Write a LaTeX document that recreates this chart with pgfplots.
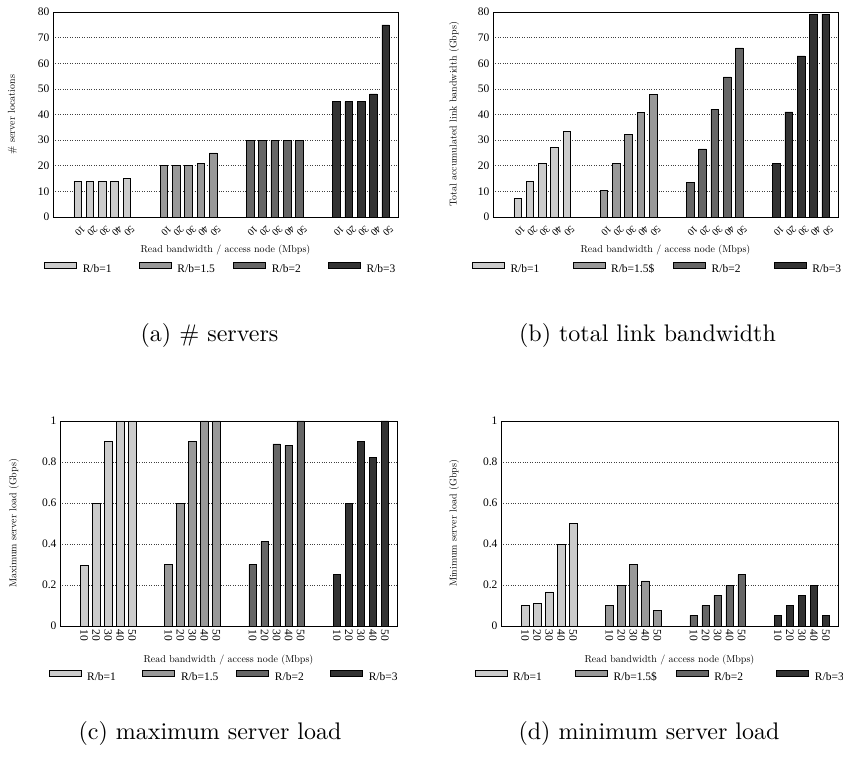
\documentclass[border=0pt]{standalone}
\usepackage{fontspec}
\usepackage{graphicx}
\usepackage{pgfplots}
\pgfplotsset{compat=1.18}
\newfontfamily\tnr{Liberation Serif}
\newcommand\cf{\tnr\fontsize{11.5}{13.8}\selectfont}
\newcommand\cfs{\tnr\fontsize{10}{12}\selectfont}
\definecolor{c1}{gray}{0.80}
\definecolor{c2}{gray}{0.60}
\definecolor{c3}{gray}{0.40}
\definecolor{c4}{gray}{0.20}
\pgfplotsset{
  mybar/.style={ybar, bar width=0.62, bar shift=0pt, draw=black, line width=0.6pt, fill=#1,
    legend image code/.code={\draw[fill=#1, draw=black, line width=0.6pt] (0pt,0.8pt) rectangle (32pt,6.8pt);}},
  ylab/.style={every axis y label/.style={at={(axis description cs:0,0.5)}, xshift=#1, rotate=90, anchor=center}},
  xlab/.style={every axis x label/.style={at={(axis description cs:0.5,0)}, yshift=#1, anchor=center}},
  legpos/.style 2 args={legend style={at={(rel axis cs:#1,#2)}}},
  base/.style={scale only axis, height=205pt, xmin=0, xmax=28, ymin=0,
    xtick={2,3,4,5,6,9,10,11,12,13,16,17,18,19,20,23,24,25,26,27},
    xticklabels={10,20,30,40,50,10,20,30,40,50,10,20,30,40,50,10,20,30,40,50},
    ymajorgrids, major grid style={dotted, black!75, line width=0.5pt},
    axis line style={line width=0.8pt}, tick style={draw=none},
    tick label style={font=\cf}, label style={font=\cf},
    /pgf/number format/assume math mode=true,
    xlabel={Read bandwidth / access node (Mbps)},
    legend columns=4,
    legend style={draw=none, fill=none, inner sep=0pt, font=\cf, anchor=west, nodes={inner sep=0pt},
      /tikz/every odd column/.append style={column sep=6pt}},
  },
  top/.style={base, width=345pt, ymax=80, ytick={0,10,20,30,40,50,60,70,80}, xlab=-33pt,
    xticklabel style={font=\cfs, xshift=2.5pt, yshift=-14pt, rotate=-135, anchor=center}},
  bot/.style={base, width=337pt, ymax=1, ytick={0,0.2,0.4,0.6,0.8,1}, xlab=-34pt,
    xticklabel style={rotate=-90, anchor=west}},
}
\begin{document}
\begin{tikzpicture}
\path[use as bounding box] (0pt,0pt) rectangle (843pt,758pt);
% (a)
\begin{axis}[top, at={(53pt,541pt)}, anchor=south west, ylabel={\# server locations}, ylab=-40.5pt, legpos={-0.0261}{-0.249}]
\addplot[mybar=c1] coordinates {(2,14) (3,14) (4,14) (5,14) (6,15)};
\addlegendentry{\makebox[56pt][l]{R/b=1}}
\addplot[mybar=c2] coordinates {(9,20) (10,20) (11,20) (12,21) (13,25)};
\addlegendentry{\makebox[56pt][l]{R/b=1.5}}
\addplot[mybar=c3] coordinates {(16,30) (17,30) (18,30) (19,30) (20,30)};
\addlegendentry{\makebox[56pt][l]{R/b=2}}
\addplot[mybar=c4] coordinates {(23,45) (24,45) (25,45) (26,48) (27,75)};
\addlegendentry{R/b=3}
\end{axis}
% (b)
\begin{axis}[top, at={(493pt,541pt)}, anchor=south west, ylabel={Total accumulated link bandwidth (Gbps)}, ylab=-39pt, legpos={-0.0617}{-0.249}]
\addplot[mybar=c1] coordinates {(2,7.3) (3,13.8) (4,20.8) (5,27.1) (6,33.5)};
\addlegendentry{\makebox[62pt][l]{R/b=1}}
\addplot[mybar=c2] coordinates {(9,10.5) (10,21.0) (11,32.2) (12,40.9) (13,47.7)};
\addlegendentry{\makebox[62pt][l]{R/b=1.5\$}}
\addplot[mybar=c3] coordinates {(16,13.6) (17,26.6) (18,42.1) (19,54.7) (20,66.0)};
\addlegendentry{\makebox[62pt][l]{R/b=2}}
\addplot[mybar=c4] coordinates {(23,20.9) (24,41.0) (25,62.9) (26,79.0) (27,79.2)};
\addlegendentry{R/b=3}
\end{axis}
% (c)
\begin{axis}[bot, at={(60pt,132pt)}, anchor=south west, ylabel={Maximum server load (Gbps)}, ylab=-46pt, legpos={-0.0347}{-0.244}]
\addplot[mybar=c1] coordinates {(2,0.295) (3,0.60) (4,0.90) (5,1.0) (6,1.0)};
\addlegendentry{\makebox[55.3pt][l]{R/b=1}}
\addplot[mybar=c2] coordinates {(9,0.30) (10,0.60) (11,0.90) (12,1.0) (13,1.0)};
\addlegendentry{\makebox[55.3pt][l]{R/b=1.5}}
\addplot[mybar=c3] coordinates {(16,0.30) (17,0.412) (18,0.888) (19,0.881) (20,1.0)};
\addlegendentry{\makebox[55.3pt][l]{R/b=2}}
\addplot[mybar=c4] coordinates {(23,0.252) (24,0.60) (25,0.90) (26,0.821) (27,1.0)};
\addlegendentry{R/b=3}
\end{axis}
% (d)
\begin{axis}[bot, at={(501pt,132pt)}, anchor=south west, ylabel={Minimum server load (Gbps)}, ylab=-47pt, legpos={-0.0792}{-0.244}]
\addplot[mybar=c1] coordinates {(2,0.10) (3,0.112) (4,0.166) (5,0.40) (6,0.50)};
\addlegendentry{\makebox[62pt][l]{R/b=1}}
\addplot[mybar=c2] coordinates {(9,0.10) (10,0.20) (11,0.30) (12,0.22) (13,0.076)};
\addlegendentry{\makebox[62pt][l]{R/b=1.5\$}}
\addplot[mybar=c3] coordinates {(16,0.052) (17,0.10) (18,0.15) (19,0.20) (20,0.25)};
\addlegendentry{\makebox[62pt][l]{R/b=2}}
\addplot[mybar=c4] coordinates {(23,0.052) (24,0.10) (25,0.15) (26,0.20) (27,0.052)};
\addlegendentry{R/b=3}
\end{axis}
% subcaptions
\node[anchor=base] at (209.5pt,416pt) {\scalebox{2.4}{(a) \# servers}};
\node[anchor=base] at (647.5pt,416pt) {\scalebox{2.4}{(b) total link bandwidth}};
\node[anchor=base] at (210pt,19pt) {\scalebox{2.4}{(c) maximum server load}};
\node[anchor=base] at (649pt,19pt) {\scalebox{2.4}{(d) minimum server load}};
\end{tikzpicture}
\end{document}
